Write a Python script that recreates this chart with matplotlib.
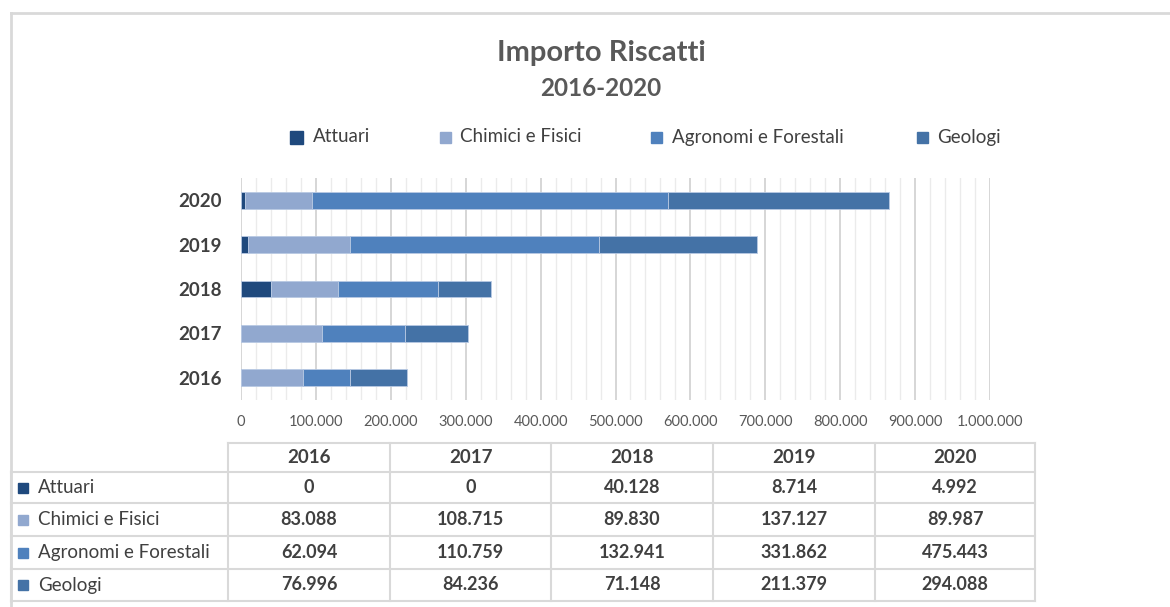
import numpy as np
import matplotlib
matplotlib.use('Agg')
import matplotlib.pyplot as plt
from matplotlib.ticker import MultipleLocator, FuncFormatter
from matplotlib.patches import Rectangle

plt.rcParams['font.family'] = ['Lato', 'DejaVu Sans']

# Data
years = ['2016', '2017', '2018', '2019', '2020']
series_names = ['Attuari', 'Chimici e Fisici', 'Agronomi e Forestali', 'Geologi']
attuari = [0, 0, 40128, 8714, 4992]
chimici = [83088, 108715, 89830, 137127, 89987]
agronomi = [62094, 110759, 132941, 331862, 475443]
geologi = [76996, 84236, 71148, 211379, 294088]
colors = ['#1f497d', '#91a8cf', '#4f81bd', '#4472a6']

series = [attuari, chimici, agronomi, geologi]

def it_fmt(v):
    return '{:,.0f}'.format(v).replace(',', '.')

W, H = 1170, 607
fig = plt.figure(figsize=(W / 100, H / 100), dpi=100)

# chart area in pixel coords
x0, x1 = 241, 990
y_top, y_bot = 178, 400
ax = fig.add_axes([x0 / W, 1 - y_bot / H, (x1 - x0) / W, (y_bot - y_top) / H])

ypos = np.arange(len(years))
left = np.zeros(len(years))
for name, vals, c in zip(series_names, series, colors):
    ax.barh(ypos, vals, left=left, height=0.38, color=c, label=name,
            edgecolor='#b8c9e3', linewidth=0.6, zorder=3)
    left += np.array(vals)

ax.set_xlim(0, 1000000)
ax.set_ylim(-0.5, len(years) - 0.5)
ax.xaxis.set_major_locator(MultipleLocator(100000))
ax.xaxis.set_minor_locator(MultipleLocator(20000))
ax.xaxis.set_major_formatter(FuncFormatter(lambda v, p: it_fmt(v)))
ax.grid(axis='x', which='major', color='#d0d0d0', linewidth=1.2, zorder=0)
ax.grid(axis='x', which='minor', color='#ebebeb', linewidth=1.0, zorder=0)
ax.set_yticks(ypos)
ax.set_yticklabels(years, fontsize=13.5, fontweight='bold', color='#404040')
ax.tick_params(axis='y', length=0, pad=14)
ax.tick_params(axis='x', which='both', length=0, labelsize=10.5, colors='#595959', pad=11)
for s in ax.spines.values():
    s.set_visible(False)

# titles
fig.text(601 / W, 1 - 53 / H, 'Importo Riscatti', ha='center', va='center',
         fontsize=21, fontweight='bold', color='#595959')
fig.text(601 / W, 1 - 89 / H, '2016-2020', ha='center', va='center',
         fontsize=17.5, fontweight='bold', color='#595959')

# legend (square left edge, text left edge, square size)
leg_sq = [290, 440, 651, 917]
leg_tx = [313, 460, 672, 937]
leg_sz = [13, 11, 11, 11]
for sx, tx, sz, name, c in zip(leg_sq, leg_tx, leg_sz, series_names, colors):
    fig.patches.append(Rectangle((sx / W, 1 - (137 + sz / 2) / H), sz / W, sz / H,
                                 transform=fig.transFigure, color=c))
    fig.text(tx / W, 1 - 137 / H, name, ha='left', va='center',
             fontsize=13.5, color='#404040')

# overlay axes in pixel coords for frame and table
ov = fig.add_axes([0, 0, 1, 1])
ov.set_xlim(0, W)
ov.set_ylim(H, 0)
ov.axis('off')

# outer frame
ov.plot([11, W], [13, 13], color='#d9d9d9', linewidth=2)
ov.plot([11, 11], [13, H], color='#d9d9d9', linewidth=2)

# table
col_x = [11, 228, 390, 551, 713, 875, 1035]
row_y = [443, 472, 503, 536, 569, 601]
lc = '#d9d9d9'
for yy in row_y:
    xs = col_x[1] if yy == row_y[0] else col_x[0]
    ov.plot([xs, col_x[-1]], [yy, yy], color=lc, linewidth=1.5)
for i, xx in enumerate(col_x):
    ys = row_y[1] if i == 0 else row_y[0]
    ov.plot([xx, xx], [ys, row_y[-1]], color=lc, linewidth=1.5)

for j, yr in enumerate(years):
    cx = (col_x[j + 1] + col_x[j + 2]) / 2
    ov.text(cx, (row_y[0] + row_y[1]) / 2, yr, ha='center', va='center',
            fontsize=13.5, fontweight='bold', color='#404040')

for i, (name, vals, c) in enumerate(zip(series_names, series, colors)):
    cy = (row_y[i + 1] + row_y[i + 2]) / 2
    ov.add_patch(Rectangle((18, cy - 5), 10, 10, color=c))
    ov.text(38, cy, name, ha='left', va='center', fontsize=13.5, color='#404040')
    for j, v in enumerate(vals):
        cx = (col_x[j + 1] + col_x[j + 2]) / 2
        ov.text(cx, cy, it_fmt(v), ha='center', va='center',
                fontsize=13, fontweight='bold', color='#404040')

fig.savefig('out.png', dpi=100)
